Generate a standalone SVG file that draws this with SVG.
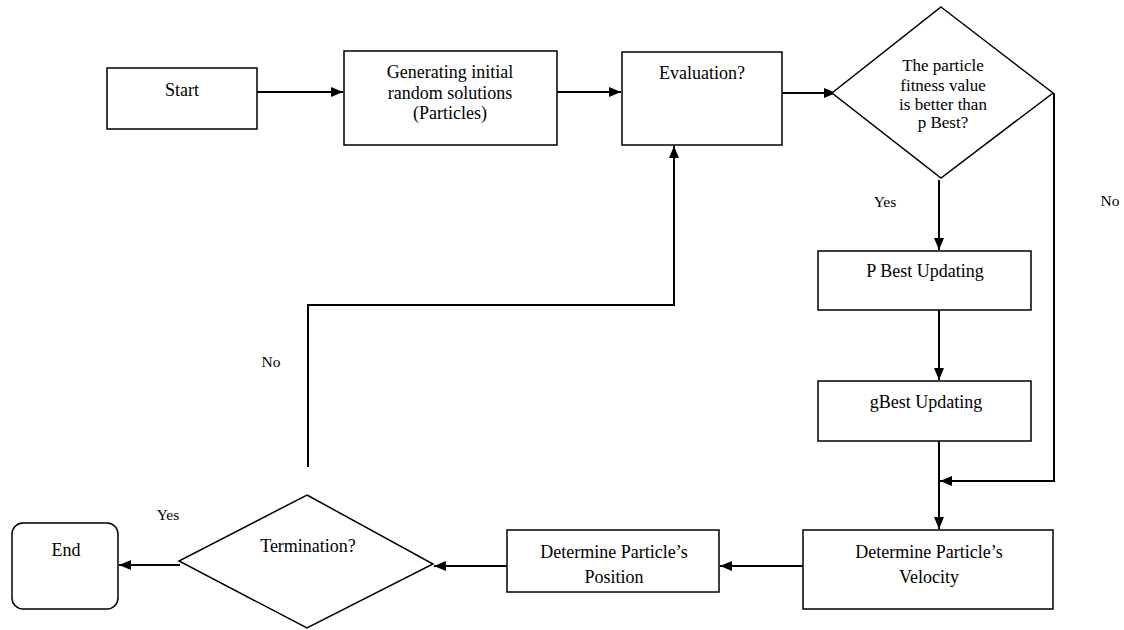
<svg xmlns="http://www.w3.org/2000/svg" width="1124" height="630" viewBox="0 0 1124 630">
<style>
.box{fill:#fff;stroke:#000;stroke-width:1.5}
.ln{fill:none;stroke:#000;stroke-width:2}
text{font-family:"Liberation Serif","Times New Roman","DejaVu Serif",serif;font-size:18px;fill:#000;text-anchor:middle}
.lbl{font-size:15.5px}
.dia{font-size:17px}
</style>
<defs>
<marker id="ah" viewBox="0 0 12 10" refX="12" refY="5" markerWidth="12" markerHeight="10" markerUnits="userSpaceOnUse" orient="auto">
<path d="M0,0 L12,5 L0,10 Z" fill="#000"/>
</marker>
</defs>
<rect width="1124" height="630" fill="#fff"/>
<g id="connectors">
<path class="ln" d="M257,92 H343" marker-end="url(#ah)"/>
<path class="ln" d="M557,92 H621" marker-end="url(#ah)"/>
<path class="ln" d="M782,93 H836" marker-end="url(#ah)"/>
<path class="ln" d="M939,180 V250" marker-end="url(#ah)"/>
<path class="ln" d="M939,310 V380" marker-end="url(#ah)"/>
<path class="ln" d="M939,441 V529" marker-end="url(#ah)"/>
<path class="ln" d="M1054,93 V481 H940" marker-end="url(#ah)"/>
<path class="ln" d="M803,566 H720" marker-end="url(#ah)"/>
<path class="ln" d="M507,566 H434" marker-end="url(#ah)"/>
<path class="ln" d="M180,565 H119" marker-end="url(#ah)"/>
<path class="ln" d="M308,467 V305 H674 V146" marker-end="url(#ah)"/>
<text class="lbl" x="885" y="207">Yes</text>
<text class="lbl" x="1110" y="206">No</text>
<text class="lbl" x="271" y="367">No</text>
<text class="lbl" x="168" y="520">Yes</text>
</g>
<g id="start">
<rect class="box" x="107" y="68" width="150" height="61"/>
<text x="182" y="96">Start</text>
</g>
<g id="generate">
<rect class="box" x="344" y="51" width="213" height="94"/>
<text x="450" y="78">Generating initial</text>
<text x="450" y="99">random solutions</text>
<text x="450" y="119">(Particles)</text>
</g>
<g id="evaluation">
<rect class="box" x="622" y="52" width="160" height="93"/>
<text x="702" y="79">Evaluation?</text>
</g>
<g id="fitness">
<polygon class="box" points="941,7 1053,93 941,178 832,93"/>
<text class="dia" x="943" y="71">The particle</text>
<text class="dia" x="943" y="91">fitness value</text>
<text class="dia" x="943" y="110">is better than</text>
<text class="dia" x="943" y="128">p Best?</text>
</g>
<g id="pbest">
<rect class="box" x="818" y="251" width="213" height="59"/>
<text x="925" y="277">P Best Updating</text>
</g>
<g id="gbest">
<rect class="box" x="818" y="381" width="213" height="60"/>
<text x="926" y="408">gBest Updating</text>
</g>
<g id="velocity">
<rect class="box" x="803" y="530" width="250" height="79"/>
<text x="929" y="558">Determine Particle’s</text>
<text x="929" y="583">Velocity</text>
</g>
<g id="position">
<rect class="box" x="507" y="530" width="212" height="62"/>
<text x="614" y="558">Determine Particle’s</text>
<text x="614" y="583">Position</text>
</g>
<g id="termination">
<polygon class="box" points="307,495 433,564 307,628 179,561"/>
<text x="308" y="552">Termination?</text>
</g>
<g id="end">
<rect class="box" x="12" y="523" width="106" height="86" rx="11" ry="11"/>
<text x="66" y="556">End</text>
</g>
</svg>
